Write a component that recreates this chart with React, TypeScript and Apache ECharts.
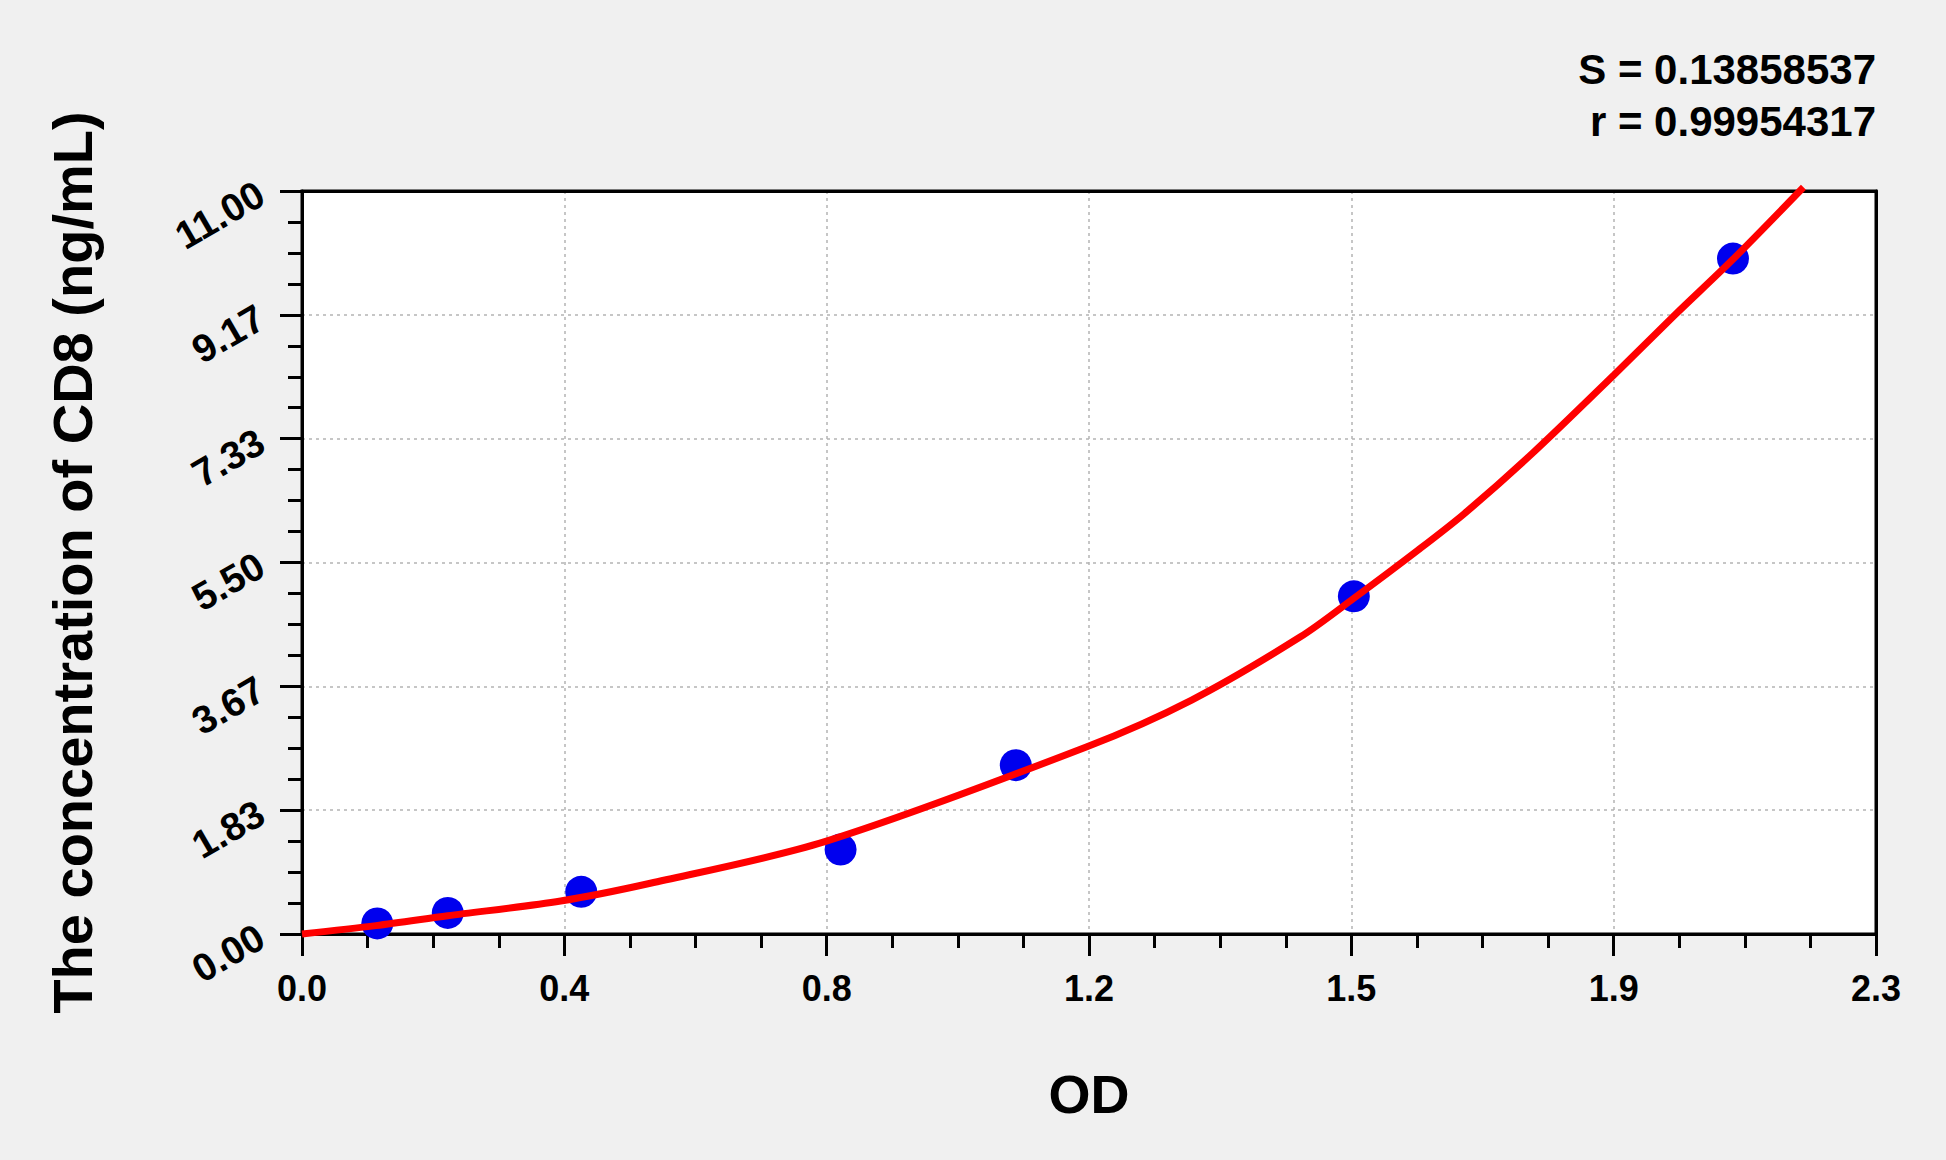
import React, { useEffect, useRef } from "react";
import * as echarts from "echarts";

const xTickLabels = ["0.0", "0.4", "0.8", "1.2", "1.5", "1.9", "2.3"];
const yTickLabels = ["0.00", "1.83", "3.67", "5.50", "7.33", "9.17", "11.00"];
const xMax = 2.3;
const yMax = 11;

const odValues = [0.11, 0.213, 0.408, 0.787, 1.043, 1.537, 2.091];
const concValues = [0.156, 0.312, 0.625, 1.25, 2.5, 5, 10];

const curveOD = [0, 0.108, 0.213, 0.378, 0.509, 0.764, 1.147, 1.3, 1.459, 1.537, 1.631, 1.699, 1.798, 1.917, 2.006, 2.091, 2.194];
const curveConc = [0, 0.124, 0.27, 0.489, 0.751, 1.367, 2.773, 3.464, 4.4, 4.97, 5.685, 6.228, 7.117, 8.276, 9.164, 9.989, 11.055];

const statLines = ["S = 0.13858537", "r = 0.99954317"];

const FONT = "'Liberation Sans', Arial, Helvetica, sans-serif";

export default function App() {
  const ref = useRef<HTMLDivElement>(null);
  useEffect(() => {
    if (!ref.current) return;
    const chart = echarts.init(ref.current, null, { renderer: "svg" });
    const xInt = xMax / 6;
    const yInt = yMax / 6;
    const axisCommon = {
      type: "value",
      axisLine: { show: true, lineStyle: { color: "#000", width: 3 } },
      axisTick: { show: true, length: 22, lineStyle: { color: "#000", width: 3 } },
      minorTick: { show: true, splitNumber: 4, length: 14, lineStyle: { color: "#000", width: 3 } },
      splitLine: { show: true, lineStyle: { color: "#b4b4b4", width: 1.5, type: [3, 4] } },
      minorSplitLine: { show: false },
    };
    const borderAxis = {
      type: "value",
      axisLine: { show: true, onZero: false, lineStyle: { color: "#000", width: 3 } },
      axisTick: { show: false },
      axisLabel: { show: false },
      splitLine: { show: false },
      minorTick: { show: false },
    };
    chart.setOption({
      animation: false,
      backgroundColor: "#f0f0f0",
      textStyle: { fontFamily: FONT },
      grid: {
        left: 302,
        top: 191,
        width: 1574,
        height: 743,
        show: true,
        backgroundColor: "#ffffff",
        borderColor: "#000",
        borderWidth: 3,
        containLabel: false,
      },
      xAxis: [
        {
          ...axisCommon,
          min: 0,
          max: xMax,
          interval: xInt,
          name: "OD",
          nameLocation: "middle",
          nameGap: 133,
          nameTextStyle: { fontSize: 54, fontWeight: "bold", color: "#000", fontFamily: FONT },
          axisLabel: {
            fontSize: 36,
            fontWeight: "bold",
            color: "#000",
            fontFamily: FONT,
            margin: 36,
            formatter: (v: number) => xTickLabels[Math.round(v / xInt)] ?? "",
          },
        },
        { ...borderAxis, position: "top", min: 0, max: xMax, interval: xInt },
      ],
      yAxis: [
        {
          ...axisCommon,
          min: 0,
          max: yMax,
          interval: yInt,
          name: "The concentration of CD8 (ng/mL)",
          nameLocation: "middle",
          nameRotate: 90,
          nameGap: 202,
          nameTextStyle: { fontSize: 56, fontWeight: "bold", color: "#000", fontFamily: FONT },
          axisLabel: {
            fontSize: 39,
            fontWeight: "bold",
            color: "#000",
            fontFamily: FONT,
            margin: 41,
            rotate: 30,
            formatter: (v: number) => yTickLabels[Math.round(v / yInt)] ?? "",
          },
        },
        { ...borderAxis, position: "right", min: 0, max: yMax, interval: yInt },
      ],
      graphic: statLines.map((t, i) => ({
        type: "text",
        right: 70,
        top: 48 + i * 52,
        style: {
          text: t,
          fontSize: 42,
          fontWeight: "bold",
          fontFamily: FONT,
          fill: "#000",
          textAlign: "right",
        },
      })),
      series: [
        {
          type: "scatter",
          data: odValues.map((x, i) => [x, concValues[i]]),
          symbol: "circle",
          symbolSize: 32,
          itemStyle: { color: "#0000ee", opacity: 1 },
          z: 2,
        },
        {
          type: "line",
          data: curveOD.map((x, i) => [x, curveConc[i]]),
          smooth: 0.3,
          showSymbol: false,
          clip: false,
          lineStyle: { color: "#ff0000", width: 7 },
          z: 3,
        },
      ],
    });
    return () => chart.dispose();
  }, []);
  return (
    <div
      ref={ref}
      style={{ position: "fixed", left: 0, top: 0, width: "1946px", height: "1160px" }}
    />
  );
}
